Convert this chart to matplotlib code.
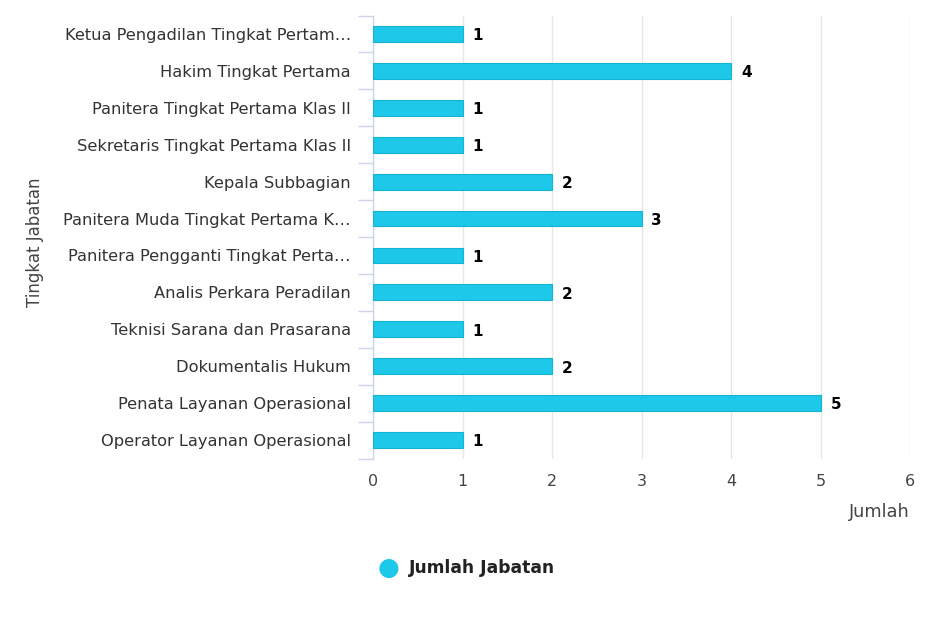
import matplotlib
matplotlib.use("Agg")
import matplotlib.pyplot as plt
import numpy as np

# data
jabatan = [
    "Ketua Pengadilan Tingkat Pertam\u2026",
    "Hakim Tingkat Pertama",
    "Panitera Tingkat Pertama Klas II",
    "Sekretaris Tingkat Pertama Klas II",
    "Kepala Subbagian",
    "Panitera Muda Tingkat Pertama K\u2026",
    "Panitera Pengganti Tingkat Perta\u2026",
    "Analis Perkara Peradilan",
    "Teknisi Sarana dan Prasarana",
    "Dokumentalis Hukum",
    "Penata Layanan Operasional",
    "Operator Layanan Operasional",
]
jumlah = [1, 4, 1, 1, 2, 3, 1, 2, 1, 2, 5, 1]
x_ticks = [0, 1, 2, 3, 4, 5, 6]

bar_color = "#1ec8e8"
txt = "#333333"

plt.rcParams['font.family'] = ['DejaVu Sans']

fig = plt.figure(figsize=(9.26, 6.17), dpi=100)
ax = fig.add_axes([373/926, 1-458.5/617, (910-373)/926, (458.5-15.5)/617])

y = np.arange(len(jabatan))
ax.barh(y, jumlah, height=0.43, color=bar_color, edgecolor="#14b4d4", linewidth=0.8, zorder=3)
for yi, v in zip(y, jumlah):
    ax.text(v + 0.11, yi + 0.05, str(v), va="center", ha="left", fontsize=11,
            fontweight="bold", color="#000000", zorder=4)

ax.set_xlim(0, 6)
ax.set_ylim(len(jabatan) - 0.5, -0.5)
ax.set_xticks(x_ticks)
ax.set_xticklabels([str(t) for t in x_ticks], fontsize=11.5, color="#444444")
ax.tick_params(axis="x", length=0, pad=11)

ax.set_yticks(y)
ax.set_yticklabels(jabatan, fontsize=11.7, color=txt)
ax.set_yticks(np.arange(len(jabatan) + 1) - 0.5, minor=True)
ax.tick_params(axis="y", which="major", length=0, pad=16)
ax.tick_params(axis="y", which="minor", length=11, color="#ccd6eb", width=1)

ax.grid(axis="x", color="#e6e6e6", linewidth=1, zorder=0)
for s in ["top", "right", "bottom"]:
    ax.spines[s].set_visible(False)
ax.spines["left"].set_color("#ccd6eb")
ax.spines["left"].set_linewidth(1)

fig.text(35/926, 1-242/617, "Tingkat Jabatan", rotation=90, ha="center", va="center",
         fontsize=12, color="#444444")
fig.text(910/926, 1-512/617, "Jumlah", ha="right", va="center", fontsize=12.8, color="#444444")

# legend
fig.text(389/926, 1-568/617, "\u25cf", ha="center", va="center", fontsize=18, color=bar_color)
fig.text(409/926, 1-568/617, "Jumlah Jabatan", ha="left", va="center", fontsize=12.3,
         fontweight="bold", color="#222222")

fig.savefig("out.png", dpi=100)
